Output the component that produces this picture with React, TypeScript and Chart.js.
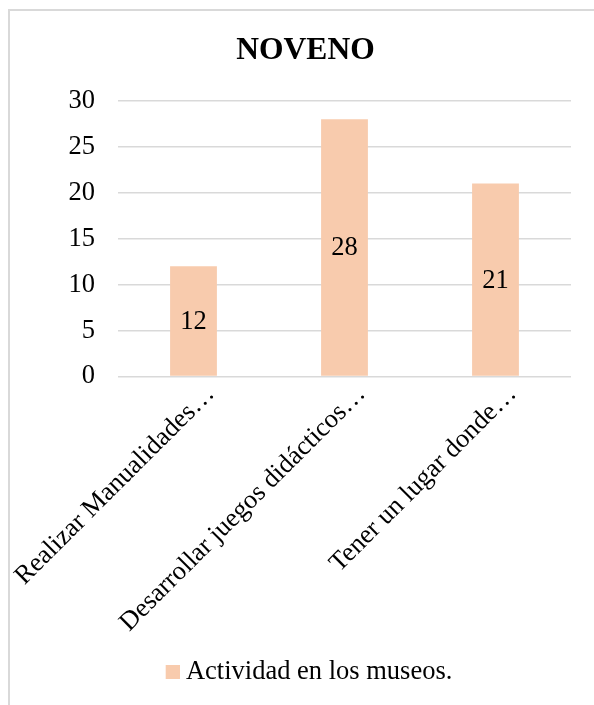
import React, { useEffect, useRef } from "react";
import { Chart, registerables } from "chart.js";

Chart.register(...registerables);

const titleText = "NOVENO";
const categories = [
  "Realizar Manualidades…",
  "Desarrollar juegos didácticos…",
  "Tener un lugar donde…",
];
const seriesName = "Actividad en los museos.";
const seriesValues = [12, 28, 21];
const yTicks = [0, 5, 10, 15, 20, 25, 30];

const FONT = "'Liberation Serif', 'Times New Roman', serif";
const FS = 26.5;
const BAR_COLOR = "#F8CBAD";
const GRID_COLOR = "#d9d9d9";

const barLabels = {
  id: "barLabels",
  afterDatasetsDraw(chart: any) {
    const ctx = chart.ctx;
    ctx.save();
    ctx.font = `${FS}px ${FONT}`;
    ctx.fillStyle = "#000";
    ctx.textAlign = "center";
    ctx.textBaseline = "middle";
    chart.data.datasets.forEach((ds: any, di: number) => {
      const meta = chart.getDatasetMeta(di);
      meta.data.forEach((bar: any, i: number) => {
        const { x, y, base } = bar.getProps(["x", "y", "base"], true);
        ctx.fillText(String(ds.data[i]), x, (y + base) / 2 + 1);
      });
    });
    ctx.restore();
  },
};

function makeLegendSwatch(): HTMLCanvasElement {
  // 28px wide image whose right half holds the 14x14 swatch
  const c = document.createElement("canvas");
  c.width = 28;
  c.height = 14;
  const g = c.getContext("2d");
  if (g) {
    g.fillStyle = BAR_COLOR;
    g.fillRect(14, 0, 14, 14);
  }
  return c;
}

export default function App() {
  const ref = useRef<HTMLCanvasElement | null>(null);

  useEffect(() => {
    if (!ref.current) return;
    const swatch = makeLegendSwatch();
    const chart = new Chart(ref.current, {
      type: "bar",
      data: {
        labels: categories,
        datasets: [
          {
            label: seriesName,
            data: seriesValues,
            backgroundColor: BAR_COLOR,
            borderWidth: 0,
            categoryPercentage: 1,
            barPercentage: 0.31,
          },
        ],
      },
      options: {
        animation: false,
        responsive: false,
        maintainAspectRatio: false,
        layout: { padding: { left: 0, right: 0, top: 0, bottom: 16 } },
        plugins: {
          title: {
            display: true,
            text: titleText,
            color: "#000",
            font: { family: FONT, size: 31.5, weight: "bold" },
            padding: { top: 21, bottom: 31 },
          },
          legend: {
            display: true,
            position: "bottom",
            labels: {
              color: "#000",
              font: { family: FONT, size: FS },
              boxWidth: 14,
              boxHeight: 14,
              padding: 10,
              usePointStyle: true,
              pointStyle: swatch as any,
            },
          },
          tooltip: { enabled: false },
        },
        scales: {
          x: {
            grid: { display: false },
            border: { display: false },
            ticks: {
              color: "#000",
              font: { family: FONT, size: FS },
              autoSkip: false,
              minRotation: 45,
              maxRotation: 45,
              labelOffset: 17,
              padding: -6,
            },
            afterFit: (scale: any) => {
              scale.height = 272;
              scale.paddingLeft = 0;
              scale.paddingRight = 0;
            },
          },
          y: {
            min: 0,
            max: 30,
            afterBuildTicks: (scale: any) => {
              scale.ticks = yTicks.map((v) => ({ value: v }));
            },
            grid: {
              color: GRID_COLOR,
              lineWidth: 1.5,
              drawTicks: false,
            },
            border: { display: false },
            ticks: {
              color: "#000",
              font: { family: FONT, size: FS },
              padding: 23,
            },
            afterFit: (scale: any) => {
              scale.width = 108;
            },
          },
          ySpacer: {
            type: "linear",
            position: "right",
            display: true,
            grid: { display: false },
            border: { display: false },
            ticks: { display: false },
            afterFit: (scale: any) => {
              scale.width = 30;
            },
          },
        },
      },
      plugins: [barLabels],
    });
    return () => chart.destroy();
  }, []);

  return (
    <div
      style={{
        position: "fixed",
        left: 0,
        top: 0,
        width: 594,
        height: 705,
        overflow: "hidden",
        background: "#fff",
      }}
    >
      <div
        style={{
          position: "absolute",
          left: 8,
          top: 9,
          width: 640,
          height: 760,
          border: `2px solid ${GRID_COLOR}`,
          boxSizing: "border-box",
          background: "#fff",
        }}
      >
        <canvas
          ref={ref}
          width={591}
          height={700}
          style={{ display: "block", width: 591, height: 700 }}
        />
      </div>
    </div>
  );
}
